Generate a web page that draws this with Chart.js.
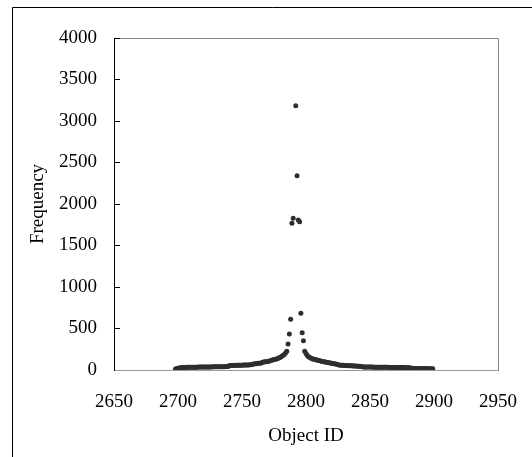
<!DOCTYPE html>
<html>
<head>
<meta charset="utf-8">
<script src="https://cdn.jsdelivr.net/npm/chart.js@4/dist/chart.umd.min.js"></script>
<style>
  body { margin: 0; background: #fff; }
  #chart { display: block; }
</style>
</head>
<body>
<canvas id="chart" width="532" height="457"></canvas>
<script>
//Object IDs (x values)
const objectIds = [
  2698, 2699,
  2700, 2701, 2702, 2703, 2704, 2705, 2706, 2707, 2708, 2709,
  2710, 2711, 2712, 2713, 2714, 2715, 2716, 2717, 2718, 2719,
  2720, 2721, 2722, 2723, 2724, 2725, 2726, 2727, 2728, 2729,
  2730, 2731, 2732, 2733, 2734, 2735, 2736, 2737, 2738, 2739,
  2740, 2741, 2742, 2743, 2744, 2745, 2746, 2747, 2748, 2749,
  2750, 2751, 2752, 2753, 2754, 2755, 2756, 2757, 2758, 2759,
  2760, 2761, 2762, 2763, 2764, 2765, 2766, 2767, 2768, 2769,
  2770, 2771, 2772, 2773, 2774, 2775, 2776, 2777, 2778, 2779,
  2780, 2781, 2782, 2783, 2784, 2785, 2786, 2787, 2788, 2789,
  2790, 2792, 2793, 2794, 2795, 2796, 2797, 2798, 2799,
  2800, 2801, 2802, 2803, 2804, 2805, 2806, 2807, 2808, 2809,
  2810, 2811, 2812, 2813, 2814, 2815, 2816, 2817, 2818, 2819,
  2820, 2821, 2822, 2823, 2824, 2825, 2826, 2827, 2828, 2829,
  2830, 2831, 2832, 2833, 2834, 2835, 2836, 2837, 2838, 2839,
  2840, 2841, 2842, 2843, 2844, 2845, 2846, 2847, 2848, 2849,
  2850, 2851, 2852, 2853, 2854, 2855, 2856, 2857, 2858, 2859,
  2860, 2861, 2862, 2863, 2864, 2865, 2866, 2867, 2868, 2869,
  2870, 2871, 2872, 2873, 2874, 2875, 2876, 2877, 2878, 2879,
  2880, 2881, 2882, 2883, 2884, 2885, 2886, 2887, 2888, 2889,
  2890, 2891, 2892, 2893, 2894, 2895, 2896, 2897, 2898, 2899,
];
//Frequency for each object ID (same order)
const frequencies = [
  12, 15,
  20, 24, 27, 30, 30, 31, 31, 32, 32, 32,
  33, 33, 33, 34, 34, 34, 35, 35, 35, 35,
  36, 36, 36, 36, 37, 37, 37, 38, 38, 38,
  38, 39, 39, 39, 40, 40, 40, 41, 41, 42,
  52, 53, 54, 55, 55, 56, 56, 57, 57, 58,
  58, 59, 59, 60, 60, 61, 62, 63, 65, 72,
  74, 76, 78, 80, 82, 85, 92, 95, 98, 100,
  103, 106, 110, 115, 122, 126, 130, 134, 140, 147,
  155, 165, 175, 188, 205, 225, 313, 434, 611, 1767,
  1828, 3184, 2341, 1807, 1787, 683, 449, 353, 225,
  200, 175, 160, 150, 142, 135, 130, 126, 122, 118,
  114, 110, 106, 103, 100, 97, 94, 91, 88, 85,
  82, 79, 76, 72, 68, 64, 60, 58, 57, 56,
  55, 54, 53, 52, 51, 50, 50, 49, 48, 47,
  46, 45, 44, 43, 38, 37, 37, 36, 36, 36,
  35, 35, 35, 34, 34, 34, 34, 33, 33, 33,
  33, 32, 32, 32, 32, 31, 31, 31, 31, 30,
  30, 30, 30, 30, 29, 29, 29, 29, 28, 28,
  28, 27, 20, 20, 19, 19, 19, 18, 18, 18,
  18, 17, 17, 17, 17, 16, 16, 16, 15, 15,
];
//Axis ranges and tick steps
const xRange = [2650, 2950];
const xStep = 50;
const yRange = [0, 4000];
const yStep = 500;

const points = objectIds.map((id, i) => ({ x: id, y: frequencies[i] }));

const serif = { family: "'Liberation Serif', 'Times New Roman', serif", size: 19 };
//plain numbers, no thousands separator
const plain = (v) => String(v);

//outer frame + top/right edge of the plot box
const framePlugin = {
  id: "frame",
  beforeDraw(chart) {
    const c = chart.ctx;
    const a = chart.chartArea;
    c.save();
    c.fillStyle = "#fff";
    c.fillRect(0, 0, chart.width, chart.height);
    c.strokeStyle = "#000";
    c.lineWidth = 1;
    c.beginPath();
    c.moveTo(12.5, chart.height);
    c.lineTo(12.5, 7.5);
    c.lineTo(chart.width, 7.5);
    c.stroke();
    c.strokeStyle = "#888";
    c.beginPath();
    c.moveTo(a.left, a.top + 0.5);
    c.lineTo(a.right + 0.5, a.top + 0.5);
    c.lineTo(a.right + 0.5, a.bottom);
    c.stroke();
    c.restore();
  },
};

new Chart(document.getElementById("chart"), {
  type: "scatter",
  plugins: [framePlugin],
  data: {
    datasets: [
      {
        data: points,
        backgroundColor: "#2e2e2e",
        borderWidth: 0,
        pointRadius: 2.5,
        pointHoverRadius: 2.5,
      },
    ],
  },
  options: {
    responsive: false,
    animation: false,
    layout: { padding: { left: 0, top: 38, right: 34, bottom: 0 } },
    plugins: {
      legend: { display: false },
      tooltip: { enabled: false },
    },
    scales: {
      x: {
        type: "linear",
        min: xRange[0],
        max: xRange[1],
        afterFit: (s) => { s.height = 87; },
        ticks: { stepSize: xStep, color: "#000", font: serif, padding: 13, maxRotation: 0, callback: plain },
        grid: { display: false },
        border: { display: true, color: "#999", width: 1 },
        title: { display: true, text: "Object ID", color: "#000", font: serif, padding: { top: 0, bottom: 10 } },
      },
      y: {
        min: yRange[0],
        max: yRange[1],
        afterFit: (s) => { s.width = 114; },
        ticks: { stepSize: yStep, color: "#000", font: serif, padding: 23, callback: plain },
        grid: { display: true, drawOnChartArea: false, drawTicks: true, tickLength: -6, color: "#000" },
        border: { display: true, color: "#000", width: 1 },
        title: { display: true, text: "Frequency", color: "#000", font: serif, padding: { top: 27, bottom: 0 } },
      },
    },
  },
});
</script>
</body>
</html>
